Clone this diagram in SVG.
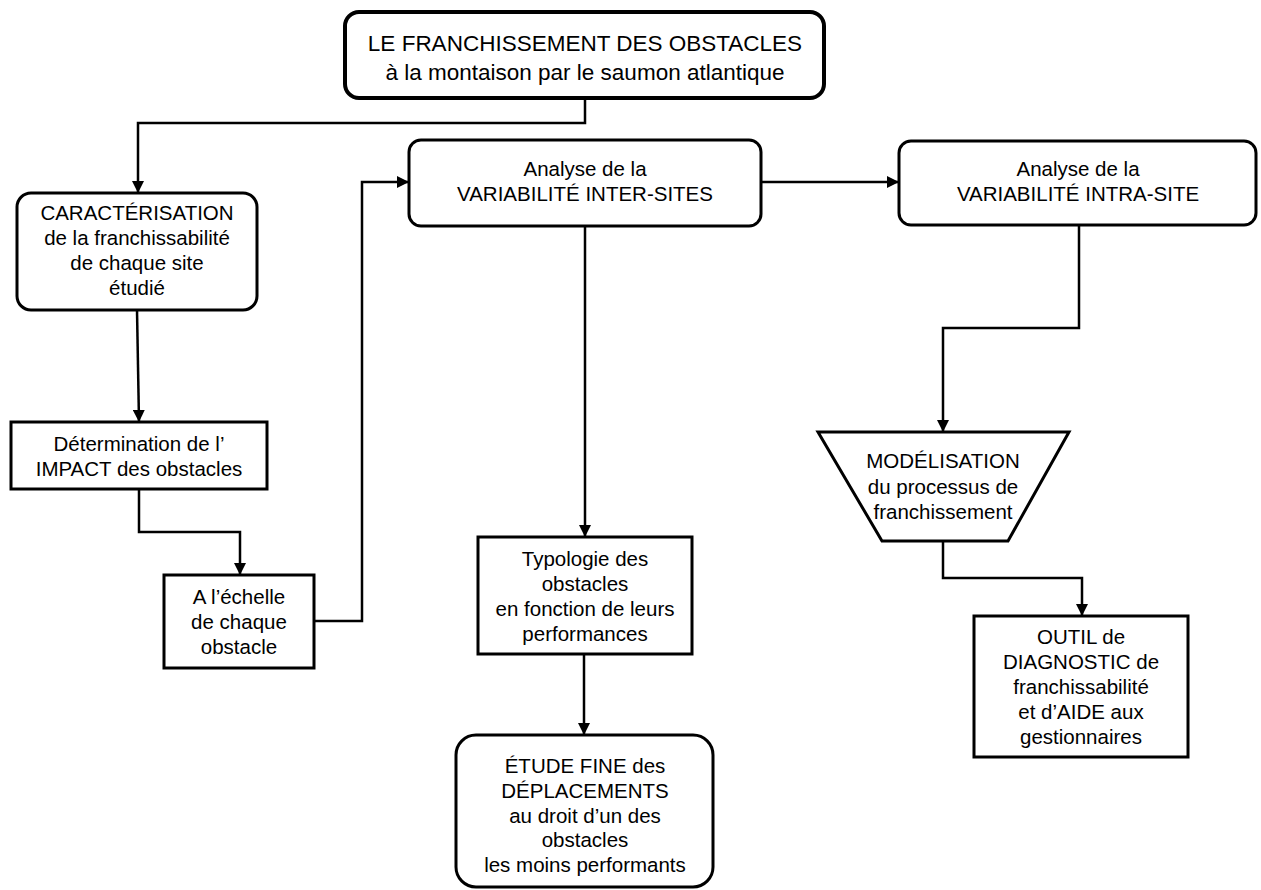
<svg xmlns="http://www.w3.org/2000/svg" width="1261" height="890" viewBox="0 0 1261 890">
<style>
  .box{fill:#fff;stroke:#000;stroke-width:3}
  .t{font-family:"Liberation Sans",Arial,sans-serif;font-size:20.5px;fill:#000;text-anchor:middle}
  .big{font-size:22.5px}
  .c{fill:none;stroke:#000;stroke-width:2.5;marker-end:url(#ah)}
</style>
<defs>
  <marker id="ah" markerUnits="userSpaceOnUse" markerWidth="12" markerHeight="12" viewBox="0 0 12 12" refX="12" refY="6" orient="auto">
    <path d="M0,0 L12,6 L0,12 Z" fill="#000"/>
  </marker>
</defs>
<rect width="1261" height="890" fill="#fff"/>
<g id="connectors">
  <path class="c" d="M585,98 V123 H138 V193"/>
  <path class="c" d="M137,310 L139,422"/>
  <path class="c" d="M139,489 V532 H240 V575"/>
  <path class="c" d="M314,621 H362 V182 H409"/>
  <path class="c" d="M761,182 H899"/>
  <path class="c" d="M585,226 V537"/>
  <path class="c" d="M584,654 V735"/>
  <path class="c" d="M1079,225 V328 H943 V432"/>
  <path class="c" d="M943,541 V578 H1082 V616"/>
</g>
<g id="top">
  <rect class="box" x="345" y="12" width="479" height="86" rx="14" style="stroke-width:4"/>
  <text class="t big" x="585" y="51">LE FRANCHISSEMENT DES OBSTACLES</text>
  <text class="t big" x="585" y="80">à la montaison par le saumon atlantique</text>
</g>
<g id="caracterisation">
  <rect class="box" x="17" y="193" width="240" height="117" rx="14"/>
  <text class="t" x="137" y="220">CARACTÉRISATION</text>
  <text class="t" x="137" y="245">de la franchissabilité</text>
  <text class="t" x="137" y="270">de chaque site</text>
  <text class="t" x="137" y="295">étudié</text>
</g>
<g id="determination">
  <rect class="box" x="11" y="422" width="256" height="67"/>
  <text class="t" x="139" y="451">Détermination de l’</text>
  <text class="t" x="139" y="476">IMPACT des obstacles</text>
</g>
<g id="echelle">
  <rect class="box" x="164" y="575" width="150" height="93"/>
  <text class="t" x="239" y="604">A l’échelle</text>
  <text class="t" x="239" y="629">de chaque</text>
  <text class="t" x="239" y="654">obstacle</text>
</g>
<g id="inter">
  <rect class="box" x="409" y="140" width="352" height="86" rx="12"/>
  <text class="t" x="585" y="176">Analyse de la</text>
  <text class="t" x="585" y="201">VARIABILITÉ INTER-SITES</text>
</g>
<g id="intra">
  <rect class="box" x="899" y="141" width="357" height="84" rx="12"/>
  <text class="t" x="1078" y="176">Analyse de la</text>
  <text class="t" x="1078" y="201">VARIABILITÉ INTRA-SITE</text>
</g>
<g id="typologie">
  <rect class="box" x="478" y="537" width="214" height="117"/>
  <text class="t" x="585" y="566">Typologie des</text>
  <text class="t" x="585" y="591">obstacles</text>
  <text class="t" x="585" y="616">en fonction de leurs</text>
  <text class="t" x="585" y="641">performances</text>
</g>
<g id="etude">
  <rect class="box" x="456" y="735" width="257" height="152" rx="20"/>
  <text class="t" x="585" y="773">ÉTUDE FINE des</text>
  <text class="t" x="585" y="798">DÉPLACEMENTS</text>
  <text class="t" x="585" y="823">au droit d’un des</text>
  <text class="t" x="585" y="847">obstacles</text>
  <text class="t" x="585" y="872">les moins performants</text>
</g>
<g id="modelisation">
  <polygon class="box" points="818,432 1069,432 1008,541 882,541"/>
  <text class="t" x="943" y="468">MODÉLISATION</text>
  <text class="t" x="943" y="494">du processus de</text>
  <text class="t" x="943" y="519">franchissement</text>
</g>
<g id="outil">
  <rect class="box" x="974" y="616" width="214" height="141"/>
  <text class="t" x="1081" y="644">OUTIL de</text>
  <text class="t" x="1081" y="669">DIAGNOSTIC de</text>
  <text class="t" x="1081" y="694">franchissabilité</text>
  <text class="t" x="1081" y="719">et d’AIDE aux</text>
  <text class="t" x="1081" y="744">gestionnaires</text>
</g>
</svg>
